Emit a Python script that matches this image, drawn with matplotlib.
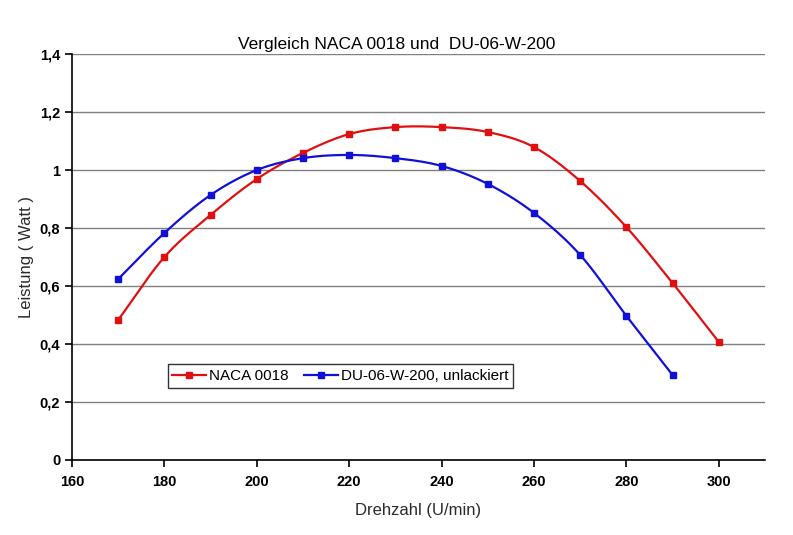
import matplotlib.pyplot as plt
import numpy as np

plt.rcParams['font.family'] = ['Liberation Sans', 'DejaVu Sans']

drehzahl_naca = [170, 180, 190, 200, 210, 220, 230, 240, 250, 260, 270, 280, 290, 300]
leistung_naca = [0.483, 0.70, 0.845, 0.969, 1.059, 1.124, 1.148, 1.148, 1.131, 1.079, 0.962, 0.803, 0.61, 0.407]

drehzahl_du = [170, 180, 190, 200, 210, 220, 230, 240, 250, 260, 270, 280, 290]
leistung_du = [0.624, 0.783, 0.914, 1.0, 1.041, 1.052, 1.041, 1.014, 0.952, 0.852, 0.707, 0.497, 0.293]


def smooth(x, y, n=20):
    # catmull-rom, like Excel's "smoothed line"
    x = np.asarray(x, float)
    y = np.asarray(y, float)
    px = np.concatenate([[2 * x[0] - x[1]], x, [2 * x[-1] - x[-2]]])
    py = np.concatenate([[2 * y[0] - y[1]], y, [2 * y[-1] - y[-2]]])
    xs, ys = [], []
    t = np.linspace(0, 1, n)
    for i in range(1, len(px) - 2):
        for p, out in ((px, xs), (py, ys)):
            p0, p1, p2, p3 = p[i - 1], p[i], p[i + 1], p[i + 2]
            out.extend(0.5 * (2 * p1 + (-p0 + p2) * t + (2 * p0 - 5 * p1 + 4 * p2 - p3) * t ** 2
                              + (-p0 + 3 * p1 - 3 * p2 + p3) * t ** 3))
    return xs, ys


fig = plt.figure(figsize=(7.93, 5.35), dpi=100)
ax = fig.add_axes([0.0908, 0.1402, 0.8739, 0.7588])

for xv, yv, col, lab in ((drehzahl_naca, leistung_naca, '#e01010', 'NACA 0018'),
                         (drehzahl_du, leistung_du, '#1010d8', 'DU-06-W-200, unlackiert')):
    sx, sy = smooth(xv, yv)
    ax.plot(sx, sy, color=col, lw=1.6)
    ax.plot(xv, yv, 's', color=col, ms=4.5)
    ax.plot([], [], '-s', color=col, lw=1.6, ms=4.5, label=lab)

ax.set_xlim(160, 310)
ax.set_ylim(0, 1.4)
ax.set_xticks(np.arange(160, 301, 20))
ax.set_yticks(np.arange(0, 1.41, 0.2))
ax.set_yticklabels(['0', '0,2', '0,4', '0,6', '0,8', '1', '1,2', '1,4'])
ax.yaxis.grid(True, color='#808080', lw=1)
ax.set_axisbelow(True)
for s in ('top', 'right'):
    ax.spines[s].set_visible(False)
for s in ('left', 'bottom'):
    ax.spines[s].set_linewidth(1.2)
ax.tick_params(direction='out', length=5, width=1.2, labelsize=10.5)
for lbl in ax.get_xticklabels() + ax.get_yticklabels():
    lbl.set_fontweight('bold')
ax.tick_params(axis='x', pad=6)

ax.set_xlabel('Drehzahl (U/min)', fontsize=12, color='#2a2a2a', labelpad=10)
ax.set_ylabel('Leistung ( Watt )', fontsize=12, color='#2a2a2a', labelpad=4)
fig.text(0.5, 1 - 44 / 535, 'Vergleich NACA 0018 und  DU-06-W-200', fontsize=12.5,
         ha='center', va='center')

leg = ax.legend(loc='center', bbox_to_anchor=(0.387, 0.207), ncol=2, frameon=True, fancybox=False,
                edgecolor='black', fontsize=11, handlelength=2.2, handletextpad=0.2, columnspacing=1.0,
                borderpad=0.3)
leg.get_frame().set_linewidth(1.0)

fig.savefig('out.png', dpi=100)
